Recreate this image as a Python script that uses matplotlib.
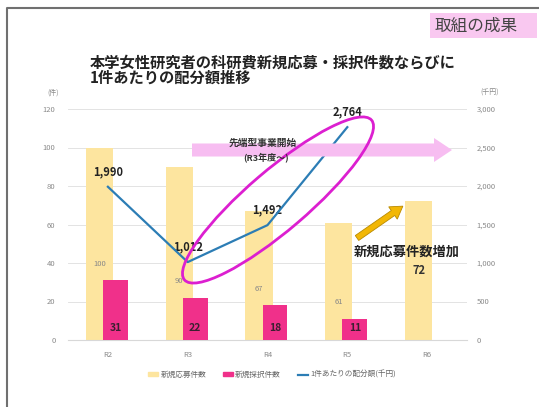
import matplotlib.pyplot as plt
import numpy as np
from matplotlib.lines import Line2D
from matplotlib.patches import Ellipse, FancyArrow, Patch, Rectangle

plt.rcParams["font.family"] = ["Noto Sans CJK JP", "DejaVu Sans"]

# data
years = ["R2", "R3", "R4", "R5", "R6"]
applied = [100, 90, 67, 61, 72]          # 新規応募件数
adopted = [31, 22, 18, 11, 0]            # 新規採択件数
amount_years = ["R2", "R3", "R4", "R5"]
amount = [1990, 1012, 1492, 2764]        # 1件あたりの配分額(千円)

YELLOW = "#fde59f"
PINK = "#f0308a"
BLUE = "#2c7db5"
GRID = "#e3e3e3"
TICK = "#8a8a8a"

W, H = 539, 407
fig = plt.figure(figsize=(W / 100, H / 100), dpi=100)
ax = fig.add_axes([68 / W, 1 - 340 / H, (467 - 68) / W, (340 - 109) / H])
ax2 = ax.twinx()

x = np.arange(len(years))
xa = np.arange(len(amount_years))

ax.bar(x - 0.106, applied, width=0.34, color=YELLOW, zorder=2)
ax.bar(x[:4] + 0.094, adopted[:4], width=0.31, color=PINK, zorder=3)

# bar labels
for i, v in enumerate(applied):
    if i < 4:
        ax.text(x[i] - 0.106, adopted[i] + 8.5, str(v), ha="center", va="center",
                fontsize=5.5, color="#888888", zorder=4)
    else:
        ax.text(x[i] - 0.106, v / 2, str(v), ha="center", va="center",
                fontsize=8, fontweight="bold", color="#333333", zorder=4)
for i, v in enumerate(adopted[:4]):
    ax.text(x[i] + 0.094, 6, str(v), ha="center", va="center",
            fontsize=7.5, fontweight="bold", color="#3a2030", zorder=4)

ax2.plot(xa, amount, color=BLUE, lw=1.6, zorder=5)
for i, v in enumerate(amount):
    ax2.annotate(f"{v:,}", (xa[i], v), xytext=(0, 11), textcoords="offset points",
                 ha="center", va="center", fontsize=8, fontweight="bold", color="#222222")

ax.set_xlim(-0.5, 4.5)
ax.set_ylim(0, 120)
ax.set_yticks(range(0, 121, 20))
ax2.set_ylim(0, 3000)
ax2.set_yticks(range(0, 3001, 500))
ax2.set_yticklabels([f"{t:,}" for t in range(0, 3001, 500)])
ax.set_xticks(x)
ax.set_xticklabels(years)

ax.grid(axis="y", color=GRID, lw=0.7, zorder=0)
ax.set_axisbelow(True)
for a in (ax, ax2):
    for s in a.spines.values():
        s.set_visible(False)
    a.tick_params(length=0, labelsize=5.5, labelcolor=TICK)
ax.spines["bottom"].set_visible(True)
ax.spines["bottom"].set_color("#d8d8d8")
ax.tick_params(axis="y", pad=9)
ax.tick_params(axis="x", pad=8)
ax2.tick_params(axis="y", pad=7)

legend_handles = [
    Patch(color=YELLOW, label="新規応募件数"),
    Patch(color=PINK, label="新規採択件数"),
    Line2D([], [], color=BLUE, lw=1.6, label="1件あたりの配分額(千円)"),
]
fig.legend(handles=legend_handles, loc="center", bbox_to_anchor=(272 / W, 1 - 375 / H),
           ncol=3, frameon=False, fontsize=5.5, handlelength=1.3, handleheight=0.5,
           columnspacing=2.2, handletextpad=0.3, labelcolor="#666666")

# overlay in pixel coordinates for slide decorations
ov = fig.add_axes([0, 0, 1, 1], zorder=10)
ov.set_xlim(0, W)
ov.set_ylim(H, 0)
ov.axis("off")
ov.patch.set_alpha(0)

ov.plot([7, 7, W], [H, 8, 8], color="#707070", lw=1.5)
ov.add_patch(Rectangle((430, 13), 107, 25, color="#f9c8f0", lw=0))
ov.text(476, 26, "取組の成果", ha="center", va="center", fontsize=12, color="#444444")

ov.text(90, 62, "本学女性研究者の科研費新規応募・採択件数ならびに", ha="left", va="center",
        fontsize=11, fontweight="bold", color="#222222")
ov.text(90, 78, "1件あたりの配分額推移", ha="left", va="center",
        fontsize=11, fontweight="bold", color="#222222")
ov.text(53, 93, "(件)", ha="center", va="center", fontsize=5, color=TICK)
ov.text(490, 93, "(千円)", ha="center", va="center", fontsize=5, color=TICK)

ov.add_patch(FancyArrow(192, 150, 242, 0, width=13, head_width=24, head_length=18,
                        length_includes_head=False, color="#f7bdf1", lw=0))
ov.text(263, 143, "先端型事業開始", ha="center", va="center", fontsize=7,
        fontweight="bold", color="#333333")
ov.text(266, 157, "(R3年度～)", ha="center", va="center", fontsize=6.5,
        fontweight="bold", color="#333333")

ov.add_patch(Ellipse((278, 200), 246, 60, angle=-40.5, fill=False,
                     edgecolor="#dc1fd0", lw=2))

ov.add_patch(FancyArrow(357, 238, 36, -25, width=6, head_width=15, head_length=12,
                        facecolor="#f2b705", edgecolor="#b98a00", lw=0.6))
ov.text(407, 252, "新規応募件数増加", ha="center", va="center", fontsize=9.5,
        fontweight="bold", color="#222222")

fig.savefig("out.png", dpi=100)
